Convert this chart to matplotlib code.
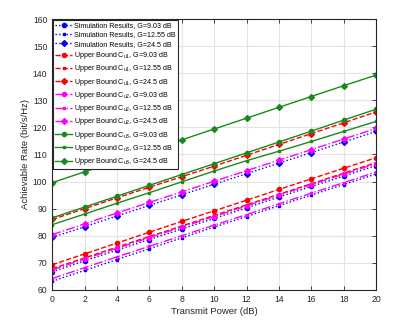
import matplotlib.pyplot as plt
import numpy as np

plt.rcParams["font.family"] = ["Liberation Sans", "DejaVu Sans"]
plt.rcParams["mathtext.fontset"] = "custom"
plt.rcParams["mathtext.rm"] = "Liberation Sans"
plt.rcParams["mathtext.it"] = "Liberation Sans"

power = [0, 2, 4, 6, 8, 10, 12, 14, 16, 18, 20]

sim_903 = [66.7, 70.7, 74.7, 78.6, 82.5, 86.4, 90.3, 94.3, 98.2, 102.0, 105.9]
sim_1255 = [63.2, 67.2, 71.2, 75.2, 79.2, 83.2, 87.1, 91.1, 95.0, 98.9, 102.8]
sim_245 = [79.4, 83.3, 87.3, 91.2, 95.1, 99.0, 102.9, 106.8, 110.7, 114.6, 118.5]
cu1_903 = [69.3, 73.3, 77.3, 81.3, 85.3, 89.2, 93.1, 97.1, 101.0, 104.9, 108.8]
cu1_1255 = [67.8, 71.8, 75.8, 79.7, 83.6, 87.5, 91.4, 95.3, 99.2, 103.1, 107.0]
cu1_245 = [86.0, 90.0, 94.0, 97.9, 101.8, 105.7, 109.7, 113.7, 117.7, 121.7, 125.7]
cu2_903 = [67.4, 71.4, 75.4, 79.3, 83.2, 87.1, 91.0, 95.0, 98.9, 102.7, 106.6]
cu2_1255 = [64.2, 68.2, 72.2, 76.1, 80.0, 83.9, 87.8, 91.8, 95.7, 99.6, 103.5]
cu2_245 = [80.4, 84.4, 88.4, 92.3, 96.2, 100.1, 104.0, 107.9, 111.8, 115.7, 119.6]
cu3_903 = [86.6, 90.6, 94.6, 98.6, 102.6, 106.6, 110.6, 114.6, 118.6, 122.7, 126.7]
cu3_1255 = [84.1, 88.0, 92.0, 95.9, 99.9, 103.9, 107.7, 111.2, 114.8, 118.5, 122.2]
cu3_245 = [99.6, 103.6, 107.6, 111.5, 115.4, 119.4, 123.4, 127.4, 131.4, 135.4, 139.3]

BLUE = "#0000ff"
RED = "#ff0000"
MAG = "#ff00ff"
GREEN = "#1a8a1a"

series = [
    (sim_903, BLUE, ":", "o", "Simulation Results, G=9.03 dB"),
    (sim_1255, BLUE, ":", "s", "Simulation Results, G=12.55 dB"),
    (sim_245, BLUE, ":", "D", "Simulation Results, G=24.5 dB"),
    (cu1_903, RED, "--", "o", r"Upper Bound C$_{u1}$, G=9.03 dB"),
    (cu1_1255, RED, "--", "s", r"Upper Bound C$_{u1}$, G=12.55 dB"),
    (cu1_245, RED, "--", "D", r"Upper Bound C$_{u1}$, G=24.5 dB"),
    (cu2_903, MAG, "-.", "o", r"Upper Bound C$_{u2}$, G=9.03 dB"),
    (cu2_1255, MAG, "-.", "s", r"Upper Bound C$_{u2}$, G=12.55 dB"),
    (cu2_245, MAG, "-.", "D", r"Upper Bound C$_{u2}$, G=24.5 dB"),
    (cu3_903, GREEN, "-", "o", r"Upper Bound C$_{u3}$, G=9.03 dB"),
    (cu3_1255, GREEN, "-", "s", r"Upper Bound C$_{u3}$, G=12.55 dB"),
    (cu3_245, GREEN, "-", "D", r"Upper Bound C$_{u3}$, G=24.5 dB"),
]

fig = plt.figure(figsize=(4.11, 3.34), dpi=100)
ax = fig.add_axes([0.127, 0.132, 0.788, 0.811])

for vals, col, ls, mk, lab in series:
    ms = 1.8 if mk == "s" else 3.0
    ax.plot(power, vals, color=col, linestyle=ls, marker=mk, markersize=ms,
            linewidth=1.0, label=lab)

ax.set_xlim(0, 20)
ax.set_ylim(60, 160)
ax.set_xticks(np.arange(0, 21, 2))
ax.set_yticks(np.arange(60, 161, 10))
ax.grid(True, color="#e3e3e3", linewidth=0.8)
ax.set_axisbelow(True)
ax.tick_params(direction="in", labelsize=6.2, colors="#262626", length=3,
               top=True, right=True, width=0.6)
for sp in ax.spines.values():
    sp.set_color("#262626")
    sp.set_linewidth(0.8)

ax.set_xlabel("Transmit Power (dB)", fontsize=6.8, color="#262626", labelpad=2)
ax.set_ylabel("Achievable Rate (bit/s/Hz)", fontsize=6.8, color="#262626", labelpad=2)

leg = ax.legend(loc="upper left", fontsize=5.1, frameon=True, fancybox=False,
                framealpha=1, edgecolor="#262626", handlelength=2.3,
                borderaxespad=0.15, labelspacing=0.32, handletextpad=0.3,
                borderpad=0.3)
leg.get_frame().set_linewidth(0.8)

fig.savefig("out.png", dpi=100)
